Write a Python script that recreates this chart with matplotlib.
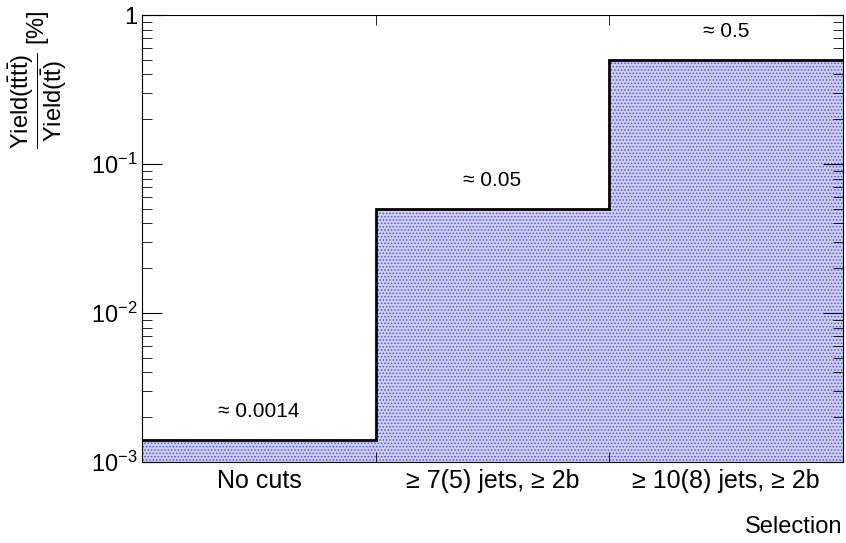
import matplotlib.pyplot as plt
from matplotlib.ticker import LogLocator, NullFormatter
import numpy as np

plt.rcParams['font.family'] = ['Liberation Sans', 'DejaVu Sans']
plt.rcParams['mathtext.fontset'] = 'custom'
plt.rcParams['mathtext.rm'] = 'Liberation Sans'
plt.rcParams['mathtext.it'] = 'Liberation Sans'
plt.rcParams['hatch.linewidth'] = 0.7

# Yield ratio per selection
categories = ['No cuts', '≥ 7(5) jets, ≥ 2b', '≥ 10(8) jets, ≥ 2b']
ratios = [0.0014, 0.05, 0.5]
labels = ['≈ 0.0014', '≈ 0.05', '≈ 0.5']

fig = plt.figure(figsize=(8.46, 5.43), dpi=100)
ax = fig.add_axes([0.168, 0.149, 0.828, 0.823])

edges = np.arange(len(categories) + 1)
ax.stairs(ratios, edges, baseline=1e-3, fill=True,
          facecolor='#d0d0f4', edgecolor='#4c4ce0', hatch='.....', linewidth=0)
ax.stairs(ratios, edges, baseline=None, color='black', linewidth=2)

for i, (r, lab) in enumerate(zip(ratios, labels)):
    ax.text(i + 0.5, r * 1.35, lab, ha='center', va='bottom', fontsize=15)

ax.set_yscale('log')
ax.set_ylim(1e-3, 1)
ax.set_xlim(0, 3)
ax.set_xticks([0.5, 1.5, 2.5])
ax.set_xticklabels(categories, fontsize=18)
ax.set_xticks([1, 2], minor=True)
ax.tick_params(axis='x', which='major', length=0, pad=5)
ax.tick_params(axis='x', which='minor', direction='in', length=7, top=True, bottom=True)
ax.tick_params(axis='y', which='both', direction='in', left=True, right=True, labelsize=17)
ax.tick_params(axis='y', which='major', length=14.5)
ax.tick_params(axis='y', which='minor', length=7.2)
ax.yaxis.set_minor_locator(LogLocator(base=10, subs=np.arange(2, 10), numticks=20))
ax.yaxis.set_minor_formatter(NullFormatter())
ax.set_yticks([1e-3, 1e-2, 1e-1, 1])
ax.set_yticklabels([r'$10^{-3}$', r'$10^{-2}$', r'$10^{-1}$', '1'])

ax.set_ylabel(r'$\dfrac{\mathrm{Yield}(\mathrm{t\bar{t}t\bar{t}})}{\mathrm{Yield}(\mathrm{t\bar{t}})}$ [%]', fontsize=17)
ax.yaxis.set_label_coords(-0.105, 0.855)
ax.set_xlabel('Selection', fontsize=17, ha='right')
ax.xaxis.set_label_coords(1.0, -0.12)

fig.savefig('out.png', dpi=100)
